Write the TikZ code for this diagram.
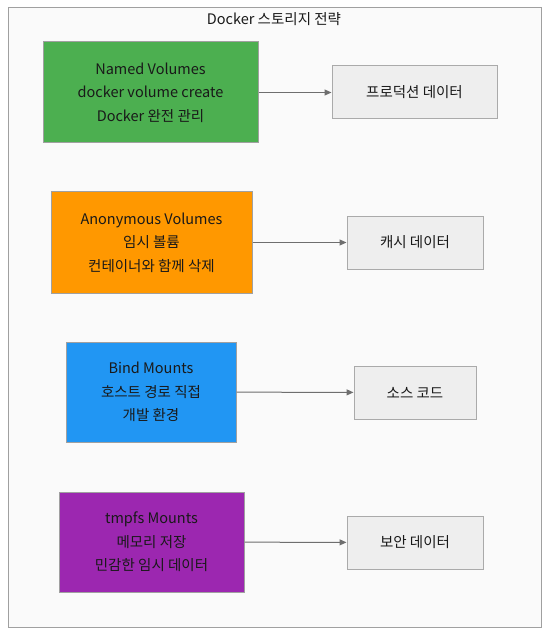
\documentclass[tikz,border=0pt]{standalone}
\usepackage{fontspec}
\setmainfont{Noto Sans CJK KR}
\usetikzlibrary{arrows.meta}

\begin{document}
\begin{tikzpicture}[x=1pt,y=-1pt,
  kind/.style={shape=rectangle,draw=boxline,line width=1pt,align=center,
    font=\fontsize{14.5}{23.5}\selectfont,text=black!90},
  store/.style={shape=rectangle,draw=storeline,fill=storefill,line width=1pt,
    minimum height=53pt,font=\fontsize{14.5}{16}\selectfont,text=black!90},
  link/.style={-{Triangle[length=7pt,width=6pt]},draw=linkgray,line width=1pt}]
\definecolor{boxline}{RGB}{160,160,160}
\definecolor{storeline}{RGB}{170,170,170}
\definecolor{storefill}{RGB}{238,238,238}
\definecolor{linkgray}{RGB}{110,110,110}
\definecolor{framefill}{RGB}{250,250,250}
\definecolor{namedgreen}{RGB}{76,175,80}
\definecolor{anonorange}{RGB}{255,152,0}
\definecolor{bindblue}{RGB}{33,150,243}
\definecolor{tmpfspurple}{RGB}{156,39,176}
\useasboundingbox (0,0) rectangle (551,644);
\node[shape=rectangle,draw=boxline,fill=framefill,line width=1pt,minimum width=533pt,minimum height=619pt] (frame) at (274.5,317.5) {};
\node[font=\fontsize{14.5}{16}\selectfont,text=black!90] (title) at (274,19) {Docker 스토리지 전략};

\node[kind,fill=namedgreen,minimum width=215pt,minimum height=101pt] (named) at (150.5,92.5) {Named Volumes\\docker volume create\\Docker 완전 관리};
\node[store,minimum width=165pt] (prod) at (414.5,92.5) {프로덕션 데이터};
\node[kind,fill=anonorange,minimum width=201pt,minimum height=101pt] (anon) at (151.5,242.5) {Anonymous Volumes\\임시 볼륨\\컨테이너와 함께 삭제};
\node[store,minimum width=136pt] (cache) at (415,242.5) {캐시 데이터};
\node[kind,fill=bindblue,minimum width=170pt,minimum height=100pt] (bind) at (151,392) {Bind Mounts\\호스트 경로 직접\\개발 환경};
\node[store,minimum width=122pt] (src) at (415,392.5) {소스 코드};
\node[kind,fill=tmpfspurple,minimum width=185pt,minimum height=100pt] (tmpfs) at (151.5,542) {tmpfs Mounts\\메모리 저장\\민감한 임시 데이터};
\node[store,minimum width=136pt] (secure) at (415,542.5) {보안 데이터};

\draw[link] (named) to (prod);
\draw[link] (anon) to (cache);
\draw[link] (bind) to (src);
\draw[link] (tmpfs) to (secure);
\end{tikzpicture}
\end{document}
